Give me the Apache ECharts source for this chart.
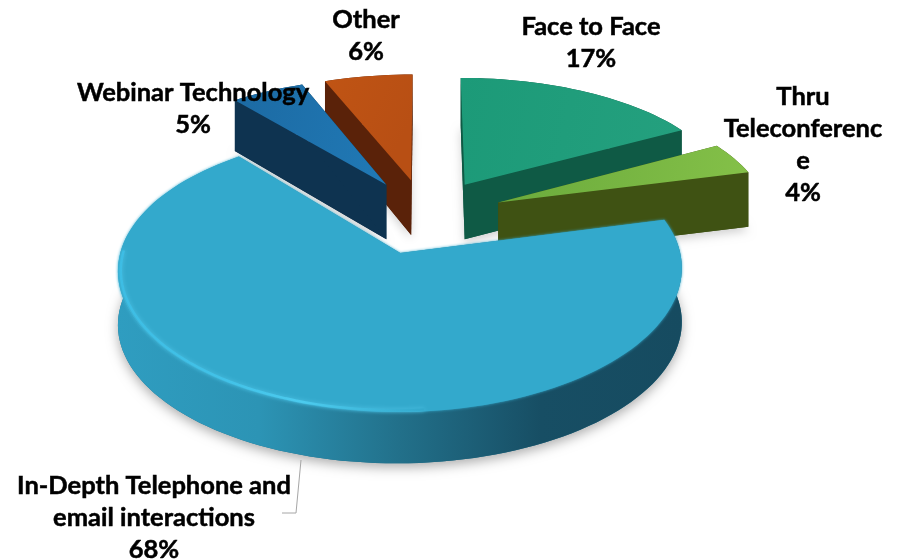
<!DOCTYPE html>
<html>
<head>
<meta charset="utf-8">
<style>html,body{margin:0;padding:0;background:#fff}#chart{width:901px;height:560px}</style>
<script src="https://cdn.jsdelivr.net/npm/echarts@6/dist/echarts.min.js"></script>
</head>
<body>
<div id="chart"></div>
<script>
// Share of interactions by channel, clockwise from twelve o'clock
const categories = ['Face to Face', 'Thru Teleconference', 'In-Depth Telephone and email interactions', 'Webinar Technology', 'Other'];
const shareValues = [17, 4, 68, 5, 6];
const labelLines = [['Face to Face'], ['Thru', 'Teleconferenc', 'e'], ['In-Depth Telephone and', 'email interactions'], ['Webinar Technology'], ['Other']];

// Tilted-disc projection
const CX = 425.5, CY = 216, RADIUS = 271, TILT = 0.473, PERSPECTIVE_X = 0.115, PERSPECTIVE_Y = 0.129, EXPLODE = 0.292;
const START_ANGLE = 0;

// Paint order runs from the back of the disc to the front
const paintOrder = [4, 3, 0, 1, 2];

const skins = [
  { top: ['#1c9a78', '#24a07e'], side: '#0f5a45', rim: ['#0d5541', '#0f5a45'] },
  { top: ['#6aaa3c', '#84c048'], side: '#3f5213', rim: ['#3f5213', '#465a16'] },
  { top: ['#33a9cc', '#33a9cc'], side: '#1f6f8c', rim: ['#2f9dc0', '#2c94b5', '#22708a', '#174e64', '#164b60'] },
  { top: ['#1c6aa3', '#2078b4'], side: '#0e3350', rim: ['#0e3350', '#0e3350'] },
  { top: ['#c05414', '#b84f14'], side: '#5a2209', rim: ['#5a2209', '#5a2209'] }
];

const labelSpots = [
  { x: 591, y: 27 }, { x: 803, y: 97 }, { x: 154, y: 486 }, { x: 193, y: 93 }, { x: 366, y: 20 }
];
const LINE_GAP = 32;

function project(u, v) {
  return [
    CX + RADIUS * u / (1 + PERSPECTIVE_X * v),
    CY - RADIUS * TILT * v / (1 + PERSPECTIVE_Y * v)
  ];
}
// Walls are tallest around the disc centre and fall away faster toward the back
function wallHeight(v) {
  const d = v - 0.25;
  return 54.5 - (d > 0 ? 6.5 : 1.4) * d * d;
}
function ringPoint(c, deg, r) {
  const a = deg * Math.PI / 180;
  return { u: c.u + r * Math.sin(a), v: c.v + r * Math.cos(a) };
}
function flat(p) { return project(p.u, p.v); }
function drop(p) {
  const q = project(p.u, p.v);
  return [q[0], q[1] + wallHeight(p.v)];
}
function linear(stops, x2, y2) {
  return {
    type: 'linear', x: 0, y: 0, x2: x2, y2: y2,
    colorStops: stops.map((c, i) => ({ offset: stops.length > 1 ? i / (stops.length - 1) : 0, color: c }))
  };
}

const total = shareValues.reduce((a, b) => a + b, 0);
const wedges = [];
let running = 0;
shareValues.forEach(val => {
  const from = START_ANGLE + running / total * 360;
  running += val;
  wedges.push({ from: from, to: START_ANGLE + running / total * 360 });
});

function buildWedge(idx) {
  const w = wedges[idx], skin = skins[idx];
  const mid = (w.from + w.to) / 2;
  const apex = ringPoint({ u: 0, v: 0 }, mid, EXPLODE);
  const arc = [];
  const steps = Math.max(8, Math.round((w.to - w.from) / 2));
  for (let i = 0; i <= steps; i++) {
    arc.push(ringPoint(apex, w.from + (w.to - w.from) * i / steps, 1));
  }
  const wall = (pts, fill, extra) => ({
    type: 'polygon', shape: { points: pts }, style: Object.assign({ fill: fill }, extra || {})
  });
  const first = arc[0], last = arc[arc.length - 1];
  const children = [];
  // Soft contact shadow cast by the whole wedge
  children.push(wall(
    [drop(apex)].concat(arc.map(drop)),
    skin.side,
    { shadowBlur: idx === 2 ? 12 : 10, shadowColor: idx === 2 ? 'rgba(0,0,0,0.32)' : 'rgba(0,0,0,0.18)', shadowOffsetY: 4 }
  ));
  // Outer wall
  children.push(wall(arc.map(flat).concat(arc.slice().reverse().map(drop)), linear(skin.rim, 1, 0)));
  // Cut faces
  children.push(wall([flat(apex), flat(first), drop(first), drop(apex)], skin.side));
  children.push(wall([flat(apex), flat(last), drop(last), drop(apex)], skin.side));
  // Top face
  children.push(wall(
    [flat(apex)].concat(arc.map(flat)),
    linear(skin.top, 1, 0.4),
    idx === 2 ? { shadowBlur: 3, shadowColor: '#33a9cc' } : null
  ));
  if (idx === 2) {
    // Bevel along the front-left edge of the large wedge
    const rim = [];
    for (let deg = 175; deg <= 272; deg += 2) {
      rim.push(flat(ringPoint(apex, deg, 0.99)));
    }
    children.push({
      type: 'polyline', shape: { points: rim },
      style: {
        fill: null, lineWidth: 2.5, shadowBlur: 4, shadowColor: 'rgba(90,205,240,0.7)',
        stroke: {
          type: 'linear', x: 0, y: 0, x2: 1, y2: 0,
          colorStops: [
            { offset: 0, color: '#3dbde4' }, { offset: 0.35, color: '#42c2e8' }, { offset: 0.6, color: '#4ccbee' },
            { offset: 1, color: '#33a9cc' }
          ]
        }
      }
    });
  }
  return { type: 'group', children: children };
}

const chart = echarts.init(document.getElementById('chart'), null, { renderer: 'canvas' });
chart.setOption({
  backgroundColor: '#ffffff',
  animation: false,
  series: [
    {
      type: 'custom',
      coordinateSystem: 'none',
      silent: true,
      z: 2,
      data: paintOrder.map(i => ({ name: categories[i], value: [i, shareValues[i]] })),
      renderItem: (params, api) => buildWedge(api.value(0))
    },
    {
      // Leader line and text stay above the disc
      type: 'custom',
      coordinateSystem: 'none',
      silent: true,
      z: 5,
      data: shareValues.map((v, i) => ({ name: categories[i], value: [i, v] })),
      renderItem: (params, api) => {
        const i = api.value(0), spot = labelSpots[i];
        const lines = labelLines[i].concat(api.value(1) + '%');
        const kids = lines.map((t, n) => ({
          type: 'text',
          style: {
            text: t, x: spot.x, y: spot.y + n * LINE_GAP,
            align: 'center', verticalAlign: 'middle',
            font: 'bold 25.5px Lato', fill: '#000000',
            stroke: '#000000', lineWidth: 0.5
          }
        }));
        if (i === 2) {
          kids.unshift({
            type: 'polyline',
            shape: { points: [[301, 460], [296, 513], [282, 513]] },
            style: { fill: null, stroke: '#a6a6a6', lineWidth: 1 }
          });
        }
        return { type: 'group', children: kids };
      }
    }
  ]
});
</script>
</body>
</html>
